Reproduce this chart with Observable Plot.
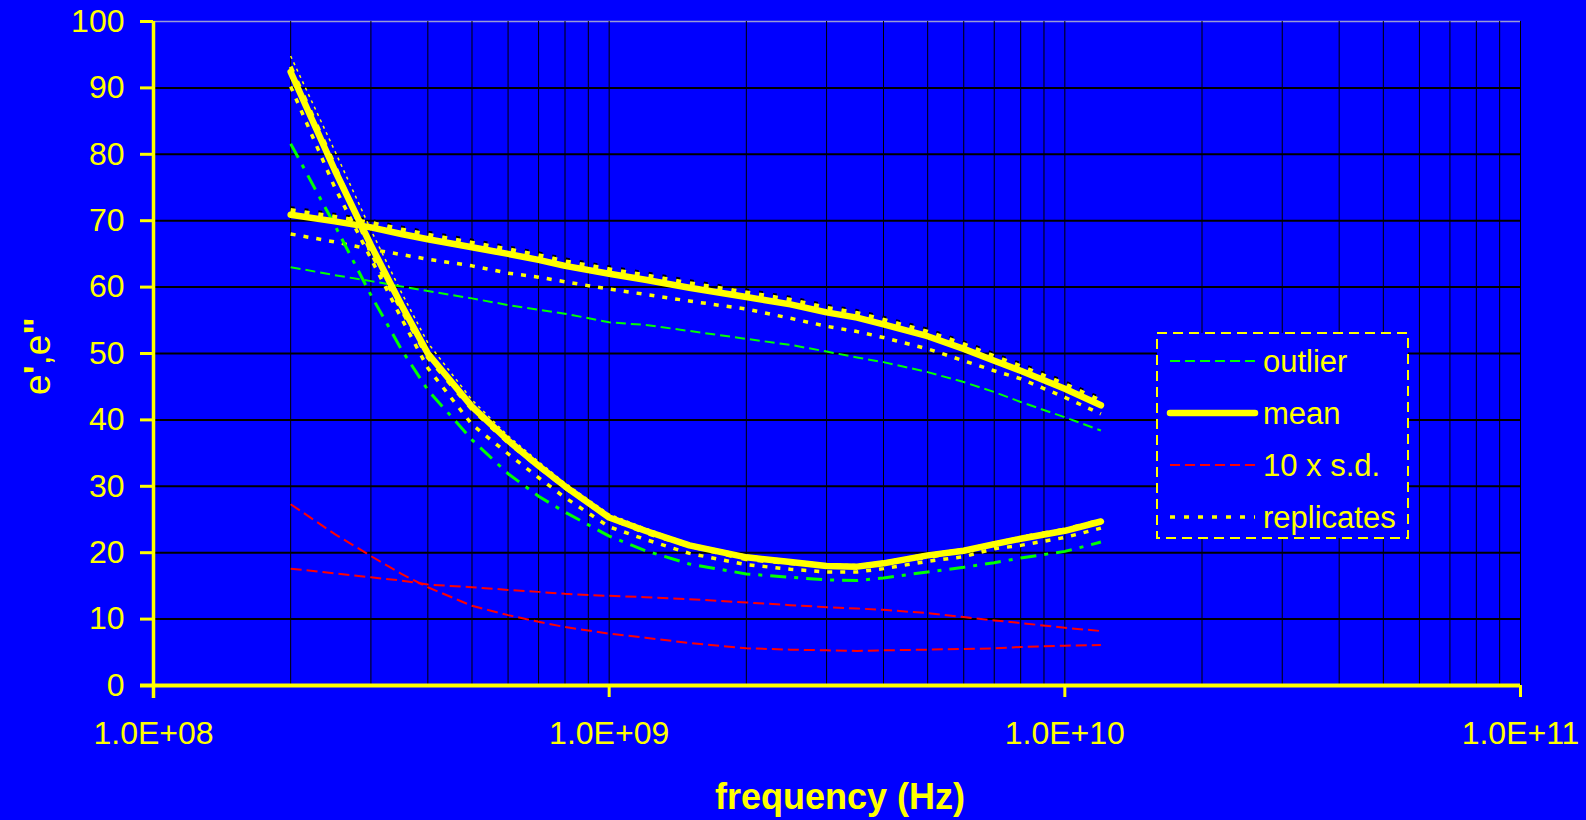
<!DOCTYPE html>
<html><head><meta charset="utf-8">
<script src="https://cdn.jsdelivr.net/npm/d3@7"></script>
<script src="https://cdn.jsdelivr.net/npm/@observablehq/plot@0.6"></script>
<style>html,body{margin:0;padding:0;background:#0000FF;overflow:hidden;}</style>
</head><body><div id="chart"></div>
<script>
// frequency (Hz)
const freq = [2e8, 2.5e8, 3e8, 3.5e8, 4e8, 5e8, 6e8, 7e8, 8e8, 1e9, 1.2e9, 1.5e9, 2e9, 2.5e9, 3e9, 3.5e9, 4e9, 5e9, 6e9, 7e9, 8e9, 1e10, 1.2e10];
// mean e' and e''
const meanEp  = [70.9, 69.9, 69.0, 68.0, 67.2, 66.0, 65.0, 64.1, 63.2, 62.0, 61.1, 59.9, 58.5, 57.4, 56.2, 55.4, 54.4, 52.6, 50.7, 48.9, 47.4, 44.7, 42.2];
const meanEpp = [92.4, 77.6, 66.3, 57.3, 50.0, 42.0, 36.9, 33.1, 30.0, 25.3, 23.3, 21.1, 19.3, 18.6, 18.0, 17.9, 18.4, 19.6, 20.3, 21.3, 22.1, 23.3, 24.7];
// outlier e' and e''
const outEp   = [63.0, 61.8, 60.9, 60.1, 59.4, 58.3, 57.3, 56.6, 56.0, 54.7, 54.3, 53.4, 52.2, 51.3, 50.3, 49.4, 48.7, 47.2, 45.7, 44.2, 42.7, 40.4, 38.4];
const outEpp  = [81.6, 69.3, 58.8, 50.6, 44.5, 37.0, 31.9, 28.5, 26.1, 22.5, 20.3, 18.3, 16.8, 16.3, 15.9, 15.8, 16.2, 17.1, 17.8, 18.5, 19.2, 20.2, 21.6];
// 10 x s.d.
const sdEp    = [17.6, 16.9, 16.3, 15.8, 15.2, 14.8, 14.4, 14.1, 13.8, 13.5, 13.3, 13.0, 12.5, 12.1, 11.8, 11.6, 11.4, 10.9, 10.3, 9.8, 9.4, 8.7, 8.2];
const sdEpp   = [27.3, 22.8, 19.5, 16.8, 14.8, 12.0, 10.6, 9.6, 8.8, 7.8, 7.2, 6.4, 5.6, 5.4, 5.3, 5.2, 5.3, 5.4, 5.5, 5.6, 5.8, 6.0, 6.1];
// replicates e'
const rep1Ep  = [71.6, 70.6, 69.7, 68.7, 67.9, 66.7, 65.7, 64.8, 63.9, 62.7, 61.8, 60.6, 59.2, 58.1, 56.9, 56.1, 55.1, 53.3, 51.4, 49.6, 48.1, 45.4, 42.9];
const rep2Ep  = [72.0, 71.0, 70.1, 69.1, 68.3, 67.1, 66.1, 65.2, 64.3, 63.1, 62.2, 61.0, 59.6, 58.5, 57.3, 56.5, 55.5, 53.7, 51.8, 50.0, 48.5, 45.8, 43.3];
const rep3Ep  = [68.0, 66.8, 65.7, 64.9, 64.2, 63.2, 62.1, 61.5, 60.8, 59.7, 58.9, 57.9, 56.7, 55.3, 54.1, 53.3, 52.4, 50.7, 48.9, 47.4, 46.2, 43.4, 40.9];
// replicates e''
const rep1Epp = [94.8, 80.5, 68.6, 59.2, 51.6, 43.0, 37.6, 33.7, 30.5, 25.8, 23.7, 21.4, 19.6, 18.9, 18.3, 18.2, 18.7, 19.9, 20.6, 21.6, 22.4, 23.6, 25.0];
const rep2Epp = [90.2, 75.0, 64.3, 55.3, 47.8, 39.3, 34.9, 31.3, 28.3, 23.9, 22.0, 19.9, 18.2, 17.5, 17.1, 17.1, 17.6, 18.7, 19.4, 20.6, 21.1, 22.3, 23.7];
const rep3Epp = [93.2, 78.3, 65.2, 56.6, 49.4, 41.6, 36.6, 32.9, 29.8, 25.2, 23.0, 21.0, 19.0, 18.4, 18.0, 17.9, 18.5, 19.3, 20.3, 21.2, 22.3, 23.5, 24.9];

// axes
const yTicks = [0, 10, 20, 30, 40, 50, 60, 70, 80, 90, 100];
const xTicks = [1e8, 1e9, 1e10, 1e11];
const xTickLabels = ["1.0E+08", "1.0E+09", "1.0E+10", "1.0E+11"];
const gridMultipliers = [1, 2, 3, 4, 5, 6, 7, 8, 9];
const gridDecades = [1e8, 1e9, 1e10];
const xGrid = gridDecades.flatMap(d => gridMultipliers.map(m => m * d)).concat([1e11]);

const legendLabels = ["outlier", "mean", "10 x s.d.", "replicates"];

const YELLOW = "#FFFF00", GREEN = "#00FF00", RED = "#FF0000", BLACK = "#000000";
const FONT = "'Liberation Sans', Arial, sans-serif";

const series = [
  {values: rep2Ep,  stroke: BLACK,  width: 2.5, dash: "4,10", cap: "butt"},
  {values: rep1Ep,  stroke: YELLOW, width: 4,   dash: "5,9",  cap: "butt"},
  {values: rep3Ep,  stroke: YELLOW, width: 3.5, dash: "5,8",  cap: "butt"},
  {values: rep1Epp, stroke: YELLOW, width: 1.5, dash: "3,4",  cap: "butt"},
  {values: rep2Epp, stroke: YELLOW, width: 3.5, dash: "5,8",  cap: "butt"},
  {values: rep3Epp, stroke: YELLOW, width: 4,   dash: "6,10", cap: "butt"},
  {values: outEp,   stroke: GREEN,  width: 2,   dash: "10,5", cap: "butt"},
  {values: outEpp,  stroke: GREEN,  width: 3,   dash: "16,8,4,8", cap: "butt"},
  {values: sdEp,    stroke: RED,    width: 2,   dash: "11,5", cap: "butt"},
  {values: sdEpp,   stroke: RED,    width: 2,   dash: "11,5", cap: "butt"},
  {values: meanEp,  stroke: YELLOW, width: 6.5, dash: null,   cap: "round"},
  {values: meanEpp, stroke: YELLOW, width: 6.5, dash: null,   cap: "round"}
];

const lineMarks = series.map(s => Plot.line(freq.map((f, i) => ({f, v: s.values[i]})), {
  x: "f", y: "v", stroke: s.stroke, strokeWidth: s.width,
  strokeDasharray: s.dash || undefined, strokeLinecap: s.cap, strokeLinejoin: "round"
}));

const chart = Plot.plot({
  width: 1586, height: 820,
  marginLeft: 153, marginRight: 66, marginTop: 21, marginBottom: 135,
  style: {background: "#0000FF", color: YELLOW, fontFamily: FONT, overflow: "visible"},
  x: {type: "log", domain: [1e8, 1e11]},
  y: {domain: [0, 100]},
  marks: [
    Plot.ruleY(yTicks.slice(1, -1), {stroke: BLACK, strokeWidth: 2}),
    Plot.ruleY(yTicks.slice(-1), {stroke: "#9a9ad6", strokeWidth: 1.5}),
    Plot.ruleX(xGrid.slice(1), {stroke: BLACK, strokeWidth: 1}),
    ...lineMarks,
    Plot.axisY({ticks: yTicks, tickSize: 13, tickPadding: 16, fontSize: 32, strokeWidth: 3, label: null}),
    Plot.axisX({ticks: xTicks, tickFormat: d => xTickLabels[xTicks.indexOf(d)], tickSize: 12, tickPadding: 24, fontSize: 32, strokeWidth: 3, label: null}),
    Plot.ruleX([1e8], {stroke: YELLOW, strokeWidth: 3.5, insetBottom: -13}),
    Plot.ruleY([0], {x1: 1e8, x2: 1e11, stroke: YELLOW, strokeWidth: 4, insetLeft: -13})
  ]
});
document.getElementById("chart").appendChild(chart);

const svg = d3.select(chart);
// axis titles
svg.append("text")
  .attr("x", 840).attr("y", 809)
  .attr("text-anchor", "middle")
  .attr("fill", YELLOW)
  .attr("font-size", 36).attr("font-weight", "bold")
  .attr("font-family", FONT)
  .text("frequency (Hz)");
const yt = svg.append("text")
  .attr("transform", "translate(50,356) rotate(-90)")
  .attr("text-anchor", "middle")
  .attr("fill", YELLOW)
  .attr("font-size", 37)
  .attr("font-family", FONT);
yt.append("tspan").text("e");
yt.append("tspan").attr("font-weight", "bold").text("'");
yt.append("tspan").text(",e");
yt.append("tspan").attr("font-weight", "bold").text("\"");

// legend
const legendStyles = [
  {stroke: GREEN, width: 2, dash: "10,5", cap: "butt"},
  {stroke: YELLOW, width: 6.5, dash: null, cap: "round"},
  {stroke: RED, width: 2, dash: "10,5", cap: "butt"},
  {stroke: YELLOW, width: 3.5, dash: "5,9", cap: "butt"}
];
const lg = svg.append("g");
lg.append("rect").attr("x", 1157).attr("y", 333).attr("width", 251).attr("height", 205)
  .attr("fill", "#0000FF").attr("stroke", YELLOW).attr("stroke-width", 2).attr("stroke-dasharray", "10,6");
legendLabels.forEach((lab, i) => {
  const y = 361 + i * 52;
  const st = legendStyles[i];
  lg.append("line").attr("x1", 1170).attr("x2", 1255).attr("y1", y).attr("y2", y)
    .attr("stroke", st.stroke).attr("stroke-width", st.width)
    .attr("stroke-dasharray", st.dash).attr("stroke-linecap", st.cap);
  lg.append("text").attr("x", 1263).attr("y", y).attr("dy", "0.36em")
    .attr("text-anchor", "start")
    .attr("fill", YELLOW).attr("font-size", 31)
    .attr("font-family", FONT)
    .text(lab);
});
</script></body></html>
